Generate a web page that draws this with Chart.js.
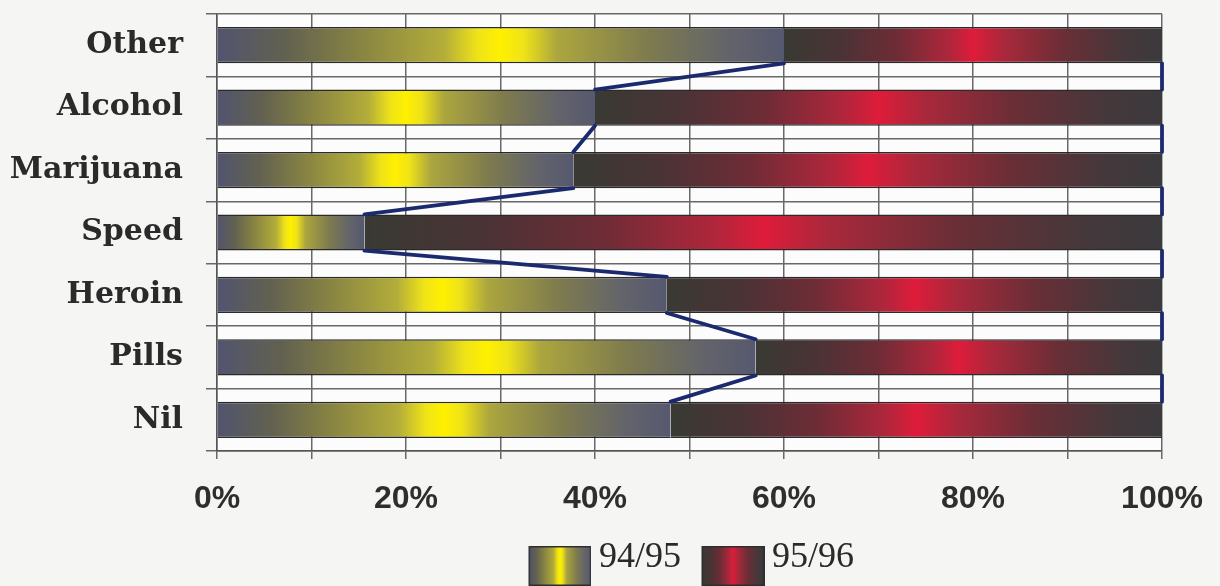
<!DOCTYPE html>
<html>
<head>
<meta charset="utf-8">
<script src="https://cdn.jsdelivr.net/npm/chart.js@4/dist/chart.umd.min.js"></script>
<style>
  html, body { margin: 0; padding: 0; background: #f5f5f3; }
  #wrap { width: 1220px; height: 586px; }
</style>
</head>
<body>
<div id="wrap"><canvas id="c" width="1220" height="586"></canvas></div>
<script>
// Drug categories, top to bottom
const categories = ['Other', 'Alcohol', 'Marijuana', 'Speed', 'Heroin', 'Pills', 'Nil'];
// Share of each category by year (percent of the category total)
const share9495 = [60, 40, 37.7, 15.6, 47.6, 57, 48];
const share9596 = [40, 60, 62.3, 84.4, 52.4, 43, 52];
const seriesNames = ['94/95', '95/96'];
const xTickLabels = ['0%', '20%', '40%', '60%', '80%', '100%'];

// Horizontal colour ramps for the two fills: dark edges, bright centre
const yellowStops = [[0, '#51546f'], [0.12, '#626150'], [0.26, '#8a8642'], [0.4, '#b3ad3a'], [0.46, '#efe318'], [0.5, '#fff000'], [0.54, '#efe318'], [0.6, '#aca63e'], [0.76, '#7e7b4e'], [0.9, '#63646a'], [1, '#56586f']];
const redStops = [[0, '#393a33'], [0.15, '#4a3336'], [0.3, '#6e2c36'], [0.44, '#b0263b'], [0.5, '#de1c3a'], [0.58, '#aa283b'], [0.74, '#6a2e36'], [0.9, '#45383b'], [1, '#3b3a3d']];

function barGradient(stops) {
  return (ctx) => {
    const chart = ctx.chart;
    const xs = chart.scales.x;
    if (!xs || ctx.type !== 'data') return stops[4][1];
    const i = ctx.dataIndex, di = ctx.datasetIndex;
    let start = 0;
    for (let d = 0; d < di; d++) start += chart.data.datasets[d].data[i];
    const end = start + chart.data.datasets[di].data[i];
    const x0 = xs.getPixelForValue(start), x1 = xs.getPixelForValue(end);
    if (!isFinite(x0) || !isFinite(x1) || x1 === x0) return stops[4][1];
    const g = chart.ctx.createLinearGradient(x0, 0, x1, 0);
    stops.forEach(([o, c]) => g.addColorStop(o, c));
    return g;
  };
}

// Small swatch images for the legend (the swatch sits low and right in its image)
function swatch(stops) {
  const cv = document.createElement('canvas');
  cv.width = 77; cv.height = 56;
  const c = cv.getContext('2d');
  const g = c.createLinearGradient(14, 0, 77, 0);
  stops.forEach(([o, col]) => g.addColorStop(o, col));
  c.fillStyle = g;
  c.fillRect(14, 16, 63, 40);
  c.strokeStyle = '#2e2e2e';
  c.lineWidth = 1.5;
  c.strokeRect(14.75, 16.75, 61.5, 38.5);
  return cv;
}
const swatches = [swatch(yellowStops), swatch(redStops)];

// Paper background and the plot area fill
const backdrop = {
  id: 'backdrop',
  beforeDraw(chart) {
    const { ctx, chartArea: a } = chart;
    ctx.save();
    ctx.fillStyle = '#f5f5f3';
    ctx.fillRect(0, 0, chart.width, chart.height);
    ctx.fillStyle = '#fcfcfc';
    ctx.fillRect(a.left, a.top, a.right - a.left, a.bottom - a.top);
    ctx.restore();
  }
};

// Series lines joining the ends of each series from one bar to the next
const seriesLines = {
  id: 'seriesLines',
  afterDatasetsDraw(chart) {
    const ctx = chart.ctx;
    ctx.save();
    ctx.strokeStyle = '#1b2a6e';
    ctx.lineWidth = 3.8;
    ctx.lineCap = 'round';
    chart.data.datasets.forEach((ds, di) => {
      const els = chart.getDatasetMeta(di).data;
      for (let i = 0; i < els.length - 1; i++) {
        const a = els[i], b = els[i + 1];
        ctx.beginPath();
        ctx.moveTo(a.x, a.y + a.height / 2);
        ctx.lineTo(b.x, b.y - b.height / 2);
        ctx.stroke();
      }
    });
    ctx.restore();
  }
};

const barStyle = {
  borderColor: '#2a2a2a',
  borderWidth: { top: 1.5, bottom: 1.5, left: 0, right: 0 },
  borderSkipped: false,
  categoryPercentage: 1,
  barPercentage: 0.58
};

new Chart(document.getElementById('c'), {
  type: 'bar',
  data: {
    labels: categories,
    datasets: [
      Object.assign({ label: seriesNames[0], data: share9495, backgroundColor: barGradient(yellowStops) }, barStyle),
      Object.assign({ label: seriesNames[1], data: share9596, backgroundColor: barGradient(redStops) }, barStyle)
    ]
  },
  options: {
    indexAxis: 'y',
    responsive: false,
    animation: false,
    events: [],
    layout: { padding: { top: 14, right: 58, left: 0, bottom: 0 } },
    scales: {
      x: {
        stacked: true,
        min: 0,
        max: 100,
        ticks: {
          stepSize: 10,
          autoSkip: false,
          maxRotation: 0,
          callback: (v) => (v % 20 === 0 ? xTickLabels[v / 20] : ''),
          font: { family: '"Liberation Sans", Arial, sans-serif', size: 32, weight: 'bold' },
          color: '#2e2e2e',
          padding: 21
        },
        grid: { color: '#686868', lineWidth: 1.5, tickLength: 8 },
        border: { color: '#555555', width: 1.5 },
        afterFit(s) { s.height = 72; s.paddingLeft = 0; s.paddingRight = 0; }
      },
      y: {
        stacked: true,
        ticks: {
          font: { family: '"DejaVu Serif", serif', size: 30, weight: 'bold' },
          color: '#2a2a2a',
          padding: 23
        },
        grid: { color: '#686868', lineWidth: 1.5, tickLength: 11, offset: true },
        border: { color: '#555555', width: 1.5 },
        afterFit(s) { s.width = 217; s.paddingTop = 0; s.paddingBottom = 0; }
      }
    },
    plugins: {
      tooltip: { enabled: false },
      legend: {
        position: 'bottom',
        fullSize: false,
        labels: {
          usePointStyle: true,
          pointStyleWidth: 56,
          boxHeight: 36,
          padding: 17,
          color: '#2a2a2a',
          font: { family: '"Liberation Serif", serif', size: 36 },
          generateLabels: (chart) => chart.data.datasets.map((ds, i) => ({
            text: ds.label,
            pointStyle: swatches[i],
            fillStyle: 'transparent',
            strokeStyle: 'transparent',
            lineWidth: 0,
            fontColor: '#2a2a2a',
            datasetIndex: i,
            hidden: false
          }))
        }
      }
    }
  },
  plugins: [backdrop, seriesLines]
});
</script>
</body>
</html>
